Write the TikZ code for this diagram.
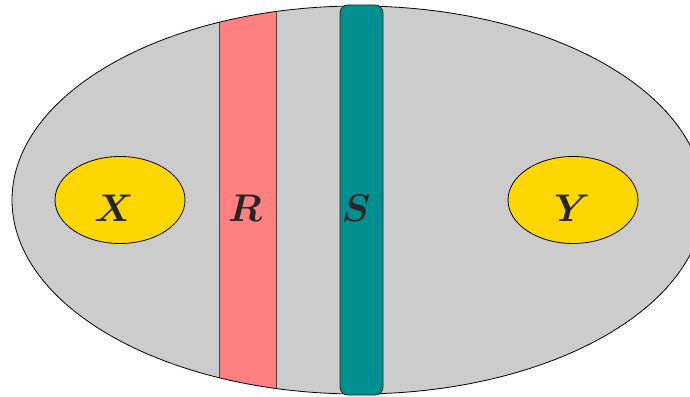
\documentclass[tikz,border=0pt]{standalone}
\usepackage{amsmath,bm}
\usetikzlibrary{shapes.geometric}
\definecolor{grayfill}{RGB}{204,204,204}
\definecolor{redfill}{RGB}{255,128,128}
\definecolor{tealfill}{RGB}{0,143,143}
\definecolor{goldfill}{RGB}{255,215,0}
\newcommand{\biglab}[1]{\scalebox{1.55}{$\bm{#1}$}}
\begin{document}
\begin{tikzpicture}[x=1pt,y=1pt,line width=0.8pt,
  lab/.style={font=\fontsize{24.88}{30}\selectfont,anchor=base,inner sep=0pt,text=black!85},
  blob/.style={ellipse,draw=black,fill=goldfill,minimum width=130pt,minimum height=87pt,inner sep=0pt}]
\useasboundingbox (0,0) rectangle (690,396);
\path[fill=grayfill] (358,196) ellipse [x radius=346, y radius=194];
\begin{scope}
\clip (358,196) ellipse [x radius=346, y radius=194];
\path[fill=redfill,draw=black!75] (219,-10) rectangle (276,410);
\end{scope}
\draw[black] (358,196) ellipse [x radius=346, y radius=194];
\node[draw=black!85,fill=tealfill,rounded corners=8pt,minimum width=43pt,minimum height=390pt,inner sep=0pt] (Sbar) at (361.5,196) {};
\node[blob] (Xb) at (120,196) {};
\node[blob] (Yb) at (573,196) {};
\node[lab] (X) at (114,174) {\biglab{X}};
\node[lab] (R) at (245,174) {\biglab{R}};
\node[lab] (S) at (356,174) {\biglab{S}};
\node[lab] (Y) at (572,174) {\biglab{Y}};
\end{tikzpicture}
\end{document}
